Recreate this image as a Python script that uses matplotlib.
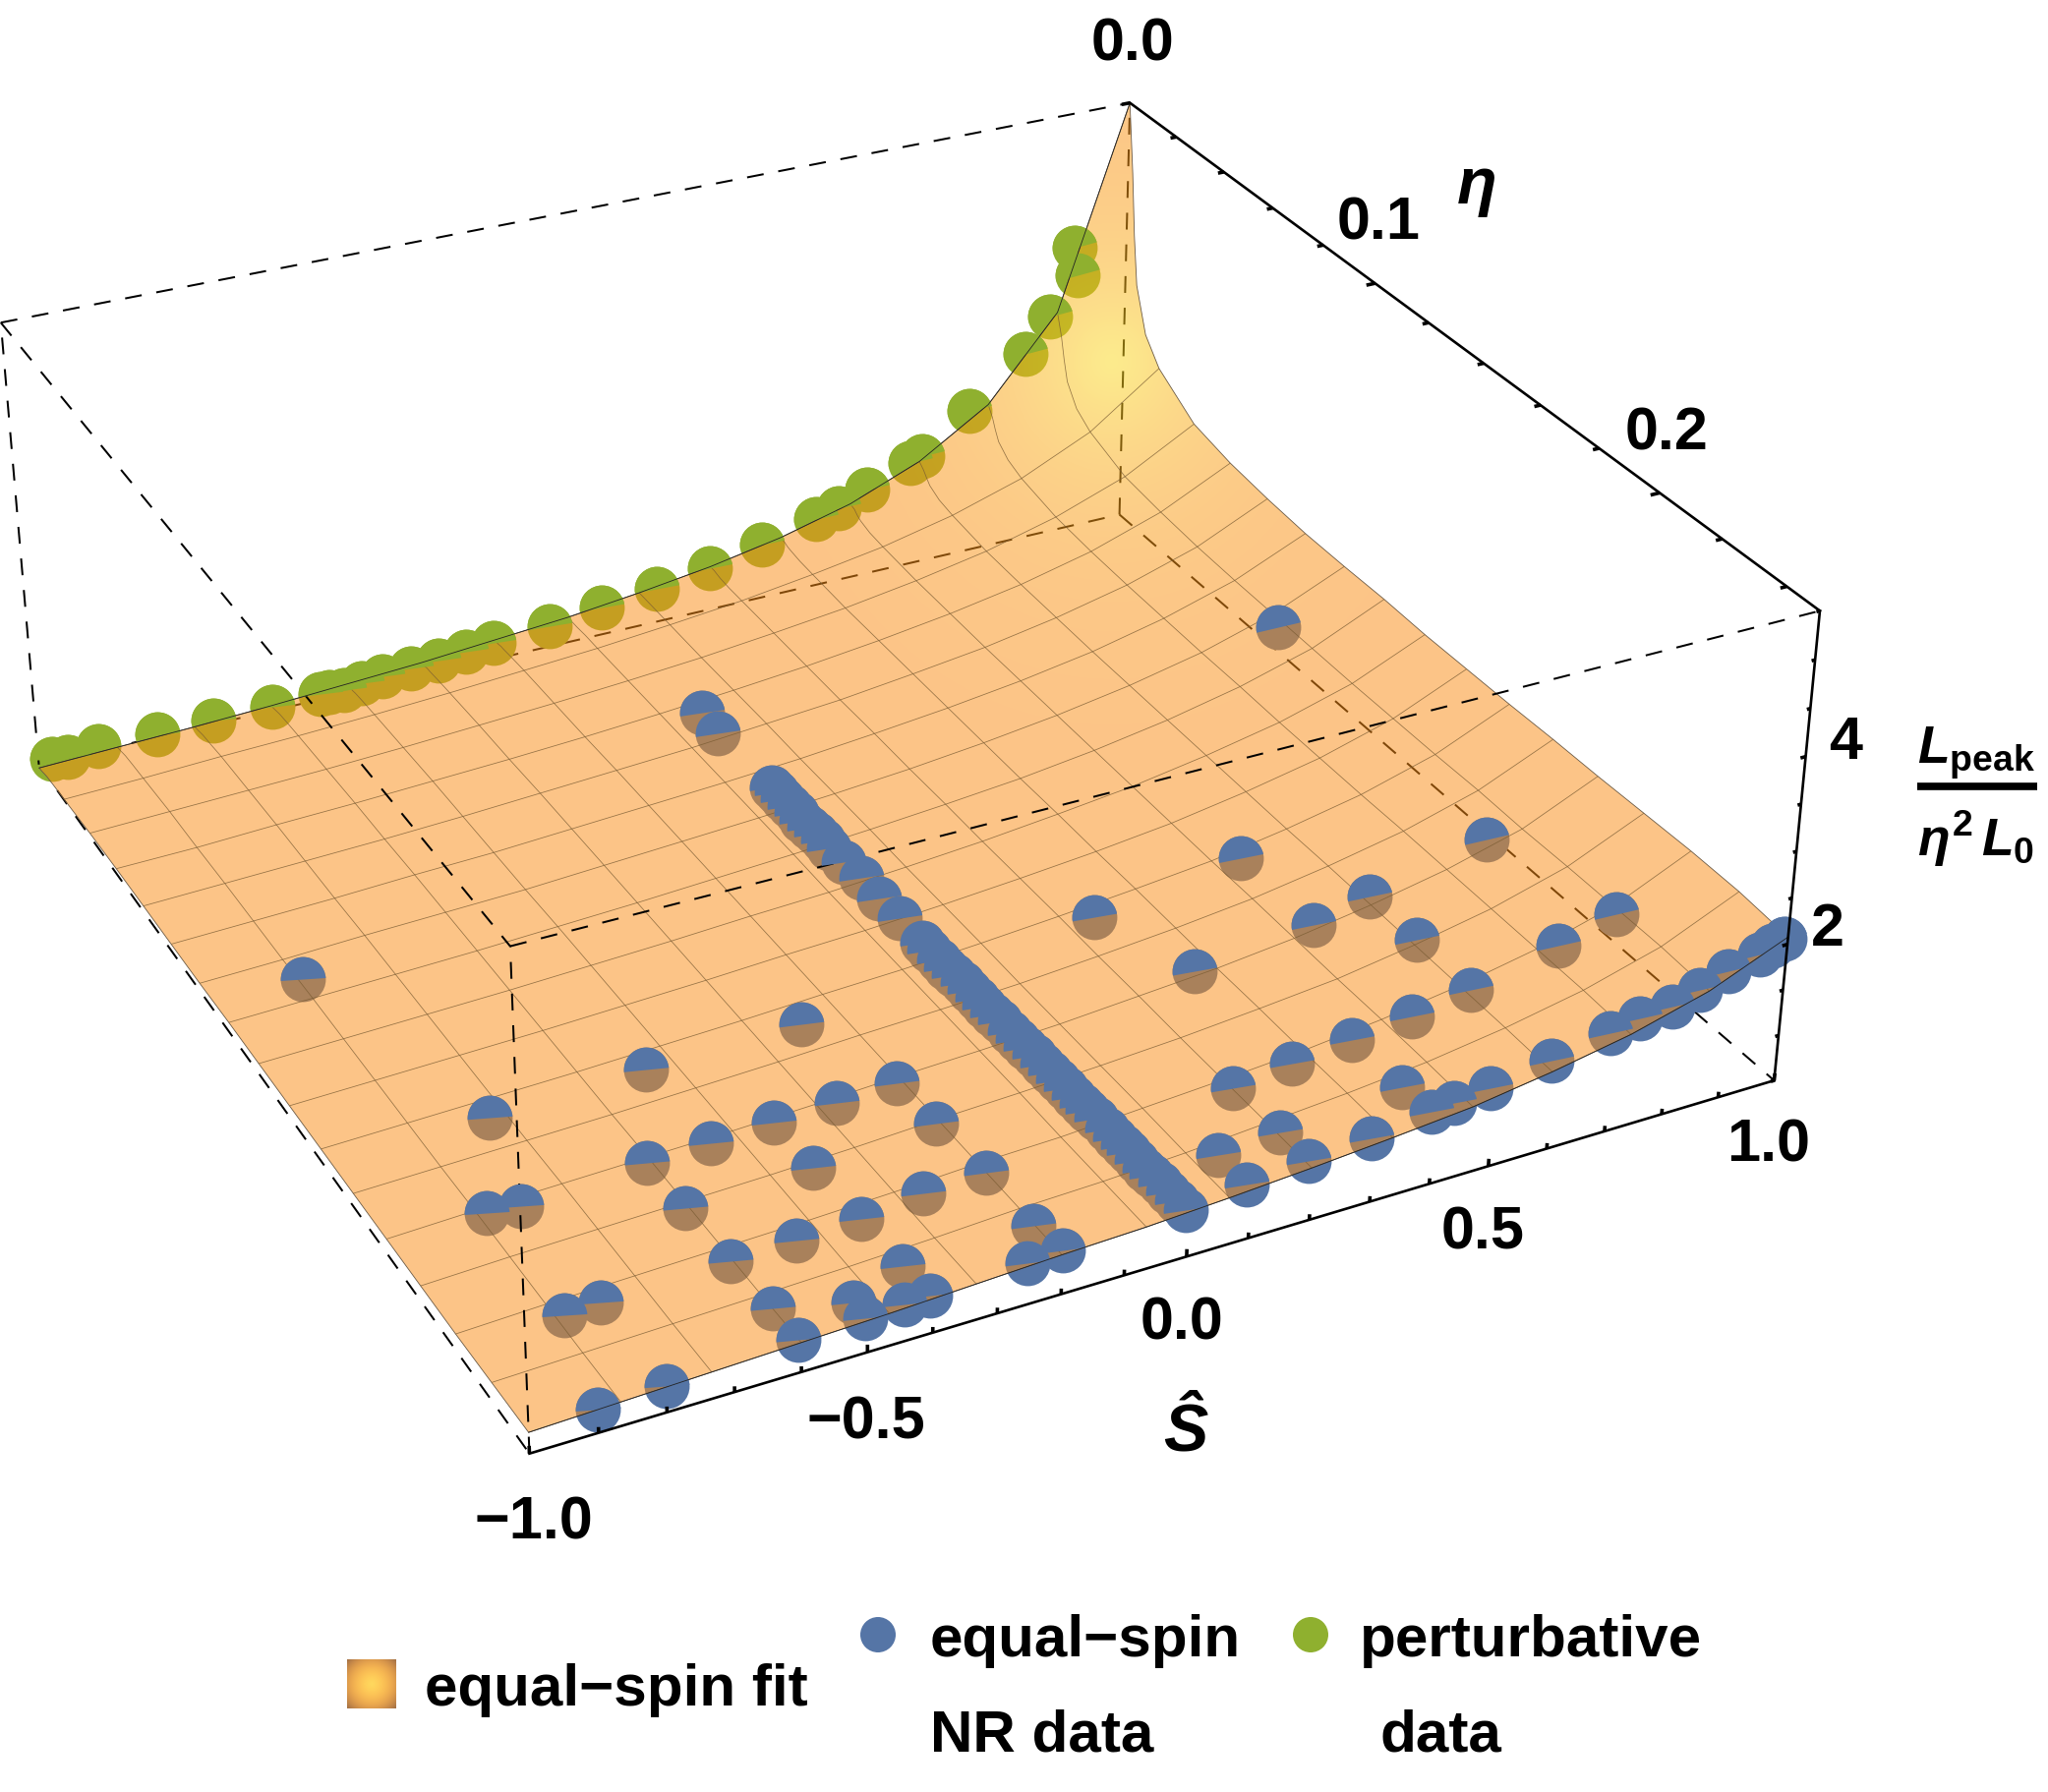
"""Equal-spin peak luminosity fit with NR and perturbative data, 3D box view."""

import numpy as np
import matplotlib

matplotlib.use("Agg")
import matplotlib.pyplot as plt  # noqa: E402
from matplotlib.collections import LineCollection  # noqa: E402
from matplotlib.markers import MarkerStyle  # noqa: E402
from matplotlib.patches import Circle, Polygon  # noqa: E402
from matplotlib.transforms import Affine2D  # noqa: E402

plt.rcParams["mathtext.fontset"] = "custom"
plt.rcParams["mathtext.it"] = "Liberation Sans:italic:bold"
plt.rcParams["mathtext.rm"] = "Liberation Sans:bold"
plt.rcParams["mathtext.bf"] = "Liberation Sans:bold"

FONT = "Liberation Sans"
BLUE = "#5575A6"
GREEN = "#8FB02F"
WIDTH, HEIGHT = 2083, 1823

S_MIN, S_MAX = -1.0, 1.0
ETA_MIN, ETA_MAX = 0.0, 0.25
L_MIN, L_MAX = 0.5, 5.5

S_TICKS = [-1.0, -0.9, -0.8, -0.7, -0.6, -0.5, -0.4, -0.3, -0.2, -0.1, 0.0, 0.1, 0.2, 0.3, 0.4, 0.5, 0.6, 0.7, 0.8, 0.9, 1.0]
ETA_TICKS = [0.0, 0.02, 0.04, 0.06, 0.08, 0.1, 0.12, 0.14, 0.16, 0.18, 0.2, 0.22, 0.24]
L_TICKS = [0.5, 1.0, 1.5, 2.0, 2.5, 3.0, 3.5, 4.0, 4.5, 5.0, 5.5]

blue_s = [
    0.856, -0.006, -0.012, -0.860, -0.758, -0.854, -0.804, -0.854, -0.800, -0.900, -0.800, -0.510, -0.606, -0.506, -0.606, -0.604, -0.406, -0.406, -0.306, -0.208,
    -0.206, -0.262, -0.200, -0.300, -0.402, -0.502, -0.402, -0.600, -0.498, -0.500, -0.600, -0.440, -0.400, -0.202, -0.250, -0.194, 0.506, 0.246, 0.302, 0.508,
    0.610, 0.610, 0.816, 0.860, 0.760, 0.608, 0.508, 0.406, 0.304, 0.202, 0.104, 0.204, 0.408, 0.204, 0.104, 0.308, 0.412, 0.450, 0.512, 0.614,
    0.714, 0.764, 0.814, 0.862, 0.910, 0.958, 0.980, 1.000, -0.010, -0.010, -0.010, -0.010, -0.010, -0.012, -0.010, -0.010, -0.010, -0.012, -0.010, -0.006,
    -0.008, -0.006, -0.008, -0.008, -0.008, -0.008, -0.008, -0.006, -0.006, -0.006, -0.006, -0.006, -0.006, -0.006, -0.006, -0.006, -0.004, -0.004, -0.004, -0.004,
    -0.004, -0.004, -0.004, -0.002, -0.002, -0.002, -0.002, -0.002, -0.002, -0.002, -0.002, 0.000, 0.000, 0.000, 0.000, 0.000,
]
blue_eta = [
    0.098, 0.051, 0.060, 0.102, 0.162, 0.189, 0.190, 0.223, 0.223, 0.250, 0.250, 0.162, 0.189, 0.189, 0.205, 0.223, 0.189, 0.205, 0.189, 0.189,
    0.204, 0.163, 0.222, 0.222, 0.223, 0.223, 0.239, 0.239, 0.244, 0.249, 0.249, 0.249, 0.249, 0.240, 0.249, 0.249, 0.159, 0.160, 0.186, 0.186,
    0.185, 0.202, 0.185, 0.221, 0.221, 0.221, 0.221, 0.221, 0.221, 0.222, 0.238, 0.238, 0.238, 0.248, 0.248, 0.248, 0.247, 0.247, 0.247, 0.247,
    0.247, 0.247, 0.248, 0.248, 0.248, 0.249, 0.249, 0.249, 0.085, 0.087, 0.090, 0.093, 0.096, 0.099, 0.102, 0.105, 0.108, 0.111, 0.117, 0.124,
    0.132, 0.140, 0.150, 0.153, 0.157, 0.160, 0.163, 0.166, 0.169, 0.172, 0.175, 0.178, 0.181, 0.185, 0.188, 0.191, 0.194, 0.197, 0.200, 0.203,
    0.206, 0.209, 0.212, 0.214, 0.217, 0.221, 0.224, 0.227, 0.229, 0.232, 0.235, 0.237, 0.240, 0.243, 0.246, 0.249,
]
blue_l = [
    1.74, 0.87, 0.87, 0.63, 0.70, 0.70, 0.71, 0.72, 0.74, 0.74, 0.77, 0.76, 0.76, 0.78, 0.77, 0.78, 0.81, 0.82, 0.84, 0.87, 0.88, 0.84, 0.90, 0.87,
    0.83, 0.80, 0.85, 0.80, 0.82, 0.83, 0.81, 0.85, 0.86, 0.91, 0.90, 0.92, 1.24, 1.05, 1.09, 1.24, 1.36, 1.36, 1.65, 1.75, 1.57, 1.36, 1.25, 1.17,
    1.10, 1.05, 1.01, 1.06, 1.17, 1.06, 1.01, 1.11, 1.17, 1.19, 1.24, 1.34, 1.46, 1.53, 1.60, 1.69, 1.81, 1.93, 1.99, 2.03, 0.89, 0.89, 0.89, 0.89,
    0.89, 0.89, 0.89, 0.90, 0.90, 0.90, 0.90, 0.91, 0.91, 0.91, 0.92, 0.92, 0.92, 0.92, 0.93, 0.93, 0.93, 0.93, 0.93, 0.93, 0.94, 0.94, 0.94, 0.94,
    0.94, 0.94, 0.94, 0.95, 0.95, 0.95, 0.95, 0.95, 0.95, 0.96, 0.96, 0.96, 0.96, 0.96, 0.96, 0.96, 0.97, 0.97, 0.97, 0.97,
]

green_s = [
    -0.979, -0.954, -0.901, -0.801, -0.704, -0.601, -0.516, -0.501, -0.475, -0.443, -0.405, -0.354, -0.305, -0.255, -0.205, -0.103, -0.006, 0.096, 0.196, 0.295,
    0.397, 0.440, 0.495, 0.579, 0.601, 0.693, 0.800, 0.848, 0.900, 0.894,
]
green_l = [
    0.56, 0.54, 0.59, 0.56, 0.58, 0.58, 0.59, 0.59, 0.58, 0.61, 0.63, 0.65, 0.67, 0.70, 0.73, 0.78, 0.86, 0.93, 1.03, 1.18, 1.34, 1.41, 1.56, 1.77,
    1.82, 2.24, 2.79, 3.18, 3.60, 3.94,
]
GREEN_ETA = 0.001

# fit surface: one row per eta, one column per spin
surf_s = np.linspace(S_MIN, S_MAX, 16)
surf_eta = np.concatenate([[0.0, 0.0020, 0.0034, 0.0050, 0.0094], np.arange(1, 16) / 64, [ETA_MAX]])
FIRST_MESH_ROW = 5
surf_l = np.array([
    [0.46, 0.49, 0.52, 0.56, 0.61, 0.66, 0.73, 0.80, 0.90, 1.02, 1.18, 1.40, 1.73, 2.24, 3.18, 5.50],
    [0.47, 0.50, 0.53, 0.57, 0.62, 0.67, 0.73, 0.81, 0.90, 1.02, 1.17, 1.38, 1.67, 2.13, 2.93, 4.71],
    [0.48, 0.51, 0.54, 0.58, 0.62, 0.68, 0.74, 0.81, 0.90, 1.01, 1.15, 1.34, 1.61, 2.01, 2.68, 4.00],
    [0.49, 0.52, 0.55, 0.59, 0.63, 0.68, 0.74, 0.81, 0.90, 1.00, 1.14, 1.31, 1.55, 1.90, 2.45, 3.44],
    [0.50, 0.53, 0.56, 0.60, 0.64, 0.69, 0.75, 0.82, 0.90, 0.99, 1.12, 1.27, 1.48, 1.78, 2.22, 2.94],
    [0.51, 0.54, 0.58, 0.61, 0.65, 0.70, 0.76, 0.82, 0.90, 0.99, 1.11, 1.25, 1.44, 1.70, 2.08, 2.67],
    [0.54, 0.57, 0.60, 0.63, 0.67, 0.72, 0.77, 0.83, 0.90, 0.99, 1.09, 1.22, 1.38, 1.60, 1.90, 2.35],
    [0.56, 0.58, 0.62, 0.65, 0.69, 0.73, 0.78, 0.84, 0.91, 0.99, 1.09, 1.21, 1.36, 1.56, 1.84, 2.24],
    [0.57, 0.60, 0.63, 0.66, 0.70, 0.75, 0.80, 0.85, 0.92, 0.99, 1.09, 1.20, 1.35, 1.54, 1.80, 2.18],
    [0.58, 0.61, 0.64, 0.68, 0.71, 0.76, 0.81, 0.86, 0.92, 1.00, 1.09, 1.20, 1.34, 1.53, 1.78, 2.14],
    [0.59, 0.62, 0.66, 0.69, 0.72, 0.77, 0.82, 0.87, 0.93, 1.00, 1.09, 1.20, 1.34, 1.52, 1.77, 2.13],
    [0.61, 0.64, 0.67, 0.70, 0.74, 0.78, 0.83, 0.88, 0.94, 1.01, 1.09, 1.20, 1.34, 1.52, 1.76, 2.13],
    [0.62, 0.65, 0.68, 0.71, 0.75, 0.79, 0.84, 0.88, 0.94, 1.01, 1.10, 1.20, 1.34, 1.51, 1.75, 2.11],
    [0.63, 0.66, 0.69, 0.72, 0.76, 0.80, 0.85, 0.89, 0.95, 1.02, 1.10, 1.20, 1.34, 1.51, 1.75, 2.11],
    [0.64, 0.67, 0.70, 0.73, 0.77, 0.81, 0.86, 0.90, 0.96, 1.03, 1.11, 1.20, 1.34, 1.51, 1.75, 2.11],
    [0.65, 0.68, 0.71, 0.74, 0.78, 0.82, 0.87, 0.91, 0.96, 1.03, 1.11, 1.21, 1.35, 1.52, 1.76, 2.12],
    [0.66, 0.70, 0.73, 0.76, 0.79, 0.83, 0.88, 0.92, 0.97, 1.04, 1.11, 1.21, 1.35, 1.52, 1.75, 2.12],
    [0.67, 0.71, 0.74, 0.77, 0.80, 0.84, 0.89, 0.93, 0.98, 1.04, 1.12, 1.21, 1.35, 1.52, 1.76, 2.13],
    [0.68, 0.72, 0.75, 0.78, 0.81, 0.85, 0.90, 0.93, 0.99, 1.05, 1.12, 1.22, 1.35, 1.52, 1.76, 2.14],
    [0.70, 0.73, 0.76, 0.79, 0.82, 0.86, 0.91, 0.94, 0.99, 1.06, 1.13, 1.22, 1.35, 1.52, 1.76, 2.13],
    [0.72, 0.75, 0.78, 0.81, 0.84, 0.88, 0.92, 0.95, 1.00, 1.06, 1.13, 1.21, 1.34, 1.50, 1.73, 2.08],
])

# where the eight box corners fall on the canvas
box_corners = [
    (S_MIN, ETA_MAX, L_MIN), (S_MAX, ETA_MAX, L_MIN), (S_MAX, ETA_MIN, L_MIN), (S_MIN, ETA_MIN, L_MIN),
    (S_MIN, ETA_MAX, L_MAX), (S_MAX, ETA_MAX, L_MAX), (S_MAX, ETA_MIN, L_MAX), (S_MIN, ETA_MIN, L_MAX),
]
box_canvas = [(539, 1480), (1804, 1100), (1139, 527), (39, 772), (520, 964), (1850, 618), (1150, 103), (0, 332)]


def fit_camera():
    rows = []
    for (s, e, l), (u, v) in zip(box_corners, box_canvas):
        e = e * 8
        rows.append([s, e, l, 1, 0, 0, 0, 0, -u * s, -u * e, -u * l, -u])
        rows.append([0, 0, 0, 0, s, e, l, 1, -v * s, -v * e, -v * l, -v])
    return np.linalg.svd(np.array(rows, float))[2][-1].reshape(3, 4)


CAMERA = fit_camera()


def project(s, e, l):
    s, e, l = np.broadcast_arrays(np.asarray(s, float), np.asarray(e, float), np.asarray(l, float))
    h = CAMERA @ np.stack([s.ravel(), e.ravel() * 8, l.ravel(), np.ones(s.size)])
    return (h[0] / h[2]).reshape(s.shape), (h[1] / h[2]).reshape(s.shape)


def box_edge(ax, start, end, **style):
    ax.plot(*project(*zip(start, end)), **style)


def half_discs(ax, xs, ys, spins, color, base, slope, zorder):
    for x, y, s in zip(xs, ys, spins):
        marker = MarkerStyle("o", fillstyle="top", transform=Affine2D().rotate_deg(base + slope * (s + 1)))
        ax.plot([x], [y], marker=marker, ms=33, mfc=color, mec="none", mew=0, markerfacecoloralt="none", ls="none", zorder=zorder)


fig = plt.figure(figsize=(WIDTH / 100, HEIGHT / 100), dpi=100)
ax = fig.add_axes([0, 0, 1, 1])
ax.axis("off")

dash = dict(color="black", lw=1.45, dashes=(8.5, 7.5), dash_capstyle="butt")
for start, end in [
    ((S_MIN, ETA_MIN, L_MIN), (S_MAX, ETA_MIN, L_MIN)),
    ((S_MAX, ETA_MIN, L_MIN), (S_MAX, ETA_MAX, L_MIN)),
    ((S_MIN, ETA_MIN, L_MIN), (S_MIN, ETA_MAX, L_MIN)),
    ((S_MAX, ETA_MIN, L_MIN), (S_MAX, ETA_MIN, L_MAX)),
]:
    box_edge(ax, start, end, zorder=1, **dash)

blue_order = np.argsort(blue_eta, kind="stable")
blue_x, blue_y = project(np.array(blue_s)[blue_order], np.array(blue_eta)[blue_order], np.array(blue_l)[blue_order])
green_x, green_y = project(green_s, GREEN_ETA, green_l)
ax.scatter(blue_x, blue_y, s=33 ** 2, color=BLUE, linewidths=0, zorder=2)
ax.scatter(green_x, green_y, s=33 ** 2, color=GREEN, linewidths=0, zorder=2)

# surface: one translucent sheet, so no seams between cells
sides = [
    project(surf_s, ETA_MIN, surf_l[0]),
    project(S_MAX, surf_eta, surf_l[:, -1]),
    project(surf_s[::-1], ETA_MAX, surf_l[-1, ::-1]),
    project(S_MIN, surf_eta[::-1], surf_l[::-1, 0]),
]
outline = Polygon(
    np.column_stack([np.concatenate([p[0] for p in sides]), np.concatenate([p[1] for p in sides])]),
    closed=True, fc="none", ec="#6b5a45", lw=0.6, zorder=4,
)
ax.add_patch(outline)
yy, xx = np.mgrid[0:HEIGHT, 0:WIDTH]
glow = np.exp(-np.hypot((xx - 1130) / 110, (yy - 367) / 120) ** 1.3)
sheet = np.zeros(xx.shape + (4,))
sheet[..., 0] = 251 / 255
sheet[..., 1] = (141 + 75 * glow) / 255
sheet[..., 2] = (20 + 10 * glow) / 255
sheet[..., 3] = 0.51
image = ax.imshow(sheet, extent=(0, WIDTH, HEIGHT, 0), aspect="auto", zorder=3, interpolation="nearest")
image.set_clip_path(outline)

mesh = [np.column_stack(project(surf_s[j], surf_eta, surf_l[:, j])) for j in range(1, 15)]
mesh += [np.column_stack(project(surf_s, surf_eta[i], surf_l[i])) for i in range(FIRST_MESH_ROW, FIRST_MESH_ROW + 15)]
ax.add_collection(LineCollection(mesh, colors="#7a5c33", linewidths=0.55, alpha=0.8, zorder=4))

for start, end in [
    ((S_MIN, ETA_MIN, L_MAX), (S_MAX, ETA_MIN, L_MAX)),
    ((S_MIN, ETA_MIN, L_MAX), (S_MIN, ETA_MAX, L_MAX)),
    ((S_MIN, ETA_MAX, L_MAX), (S_MAX, ETA_MAX, L_MAX)),
    ((S_MIN, ETA_MAX, L_MIN), (S_MIN, ETA_MAX, L_MAX)),
    ((S_MIN, ETA_MIN, L_MIN), (S_MIN, ETA_MIN, L_MAX)),
]:
    box_edge(ax, start, end, zorder=5, **dash)

half_discs(ax, blue_x, blue_y, np.array(blue_s)[blue_order], BLUE, 3, 5.5, 6)
half_discs(ax, green_x, green_y, green_s, GREEN, 4, 6, 6)

ax.plot(*project(surf_s, ETA_MAX, surf_l[-1]), color="#222222", lw=0.6, zorder=7)
ax.plot(*project(surf_s, ETA_MIN, surf_l[0]), color="#222222", lw=0.6, zorder=7)

for start, end in [
    ((S_MIN, ETA_MAX, L_MIN), (S_MAX, ETA_MAX, L_MIN)),
    ((S_MAX, ETA_MIN, L_MAX), (S_MAX, ETA_MAX, L_MAX)),
    ((S_MAX, ETA_MAX, L_MIN), (S_MAX, ETA_MAX, L_MAX)),
]:
    box_edge(ax, start, end, color="black", lw=1.9, zorder=8)

ticks = []
for s in S_TICKS:
    ticks.append(np.column_stack(project([s, s], ETA_MAX, [L_MIN, L_MIN + (0.08 if s in (-1.0, -0.5, 0.0, 0.5, 1.0) else 0.06)])))
for e in ETA_TICKS:
    ticks.append(np.column_stack(project([S_MAX, S_MAX - (0.016 if e in (0.0, 0.1, 0.2) else 0.011)], e, L_MAX)))
for l in L_TICKS:
    ticks.append(np.column_stack(project([S_MAX, S_MAX - (0.009 if l in (2.0, 4.0) else 0.006)], ETA_MAX, l)))
ax.add_collection(LineCollection(ticks, colors="black", linewidths=2.6, zorder=8, capstyle="butt"))

text_style = dict(family=FONT, weight="bold", color="black", zorder=9)
for x, y, label in [
    (1152, 46, "0.0"), (1402, 228, "0.1"), (1695, 442, "0.2"),
    (543, 1550, "\u22121.0"), (881, 1448, "\u22120.5"), (1202, 1347, "0.0"), (1508, 1255, "0.5"), (1799, 1166, "1.0"),
    (1859, 946, "2"), (1877, 756, "4"),
]:
    ax.text(x, y, label, fontsize=44, ha="center", va="center", **text_style)
ax.text(1502, 190, "\u03b7", fontsize=48, style="italic", ha="center", va="center", **text_style)
ax.text(1206, 1458, "\u015c", fontsize=49, style="italic", ha="center", va="center", **text_style)

ax.text(1950, 777, r"$L_{\mathrm{peak}}$", fontsize=38.5, ha="left", va="baseline", zorder=9)
ax.plot([1950, 2072], [800, 800], color="black", lw=5.5, solid_capstyle="butt", zorder=9)
ax.text(1950, 871, r"$\eta^{2}\,L_{0}$", fontsize=38.5, ha="left", va="baseline", zorder=9)

# legend
grid = np.linspace(-1, 1, 40)
gx, gy = np.meshgrid(grid, grid)
radius = np.hypot(gx, gy) / 1.4
swatch = np.stack([1 - 0.35 * radius ** 3, 0.85 - 0.3 * radius ** 1.2 - 0.1 * radius ** 3, 0.37 - 0.1 * radius], axis=-1)
ax.imshow(swatch, extent=(353, 403, 1738, 1688), aspect="auto", zorder=9, interpolation="bilinear")
ax.add_patch(Circle((893, 1663), 18, fc=BLUE, ec="none", zorder=9))
ax.add_patch(Circle((1333, 1663), 18, fc=GREEN, ec="none", zorder=9))
for x, y, label in [
    (432, 1735, "equal\u2212spin fit"), (946, 1685, "equal\u2212spin"), (946, 1782, "NR data"),
    (1383, 1685, "perturbative"), (1403, 1782, "data"),
]:
    ax.text(x, y, label, fontsize=43.3, ha="left", va="baseline", **text_style)

ax.set_xlim(0, WIDTH)
ax.set_ylim(HEIGHT, 0)
fig.savefig("out.png", dpi=100)
